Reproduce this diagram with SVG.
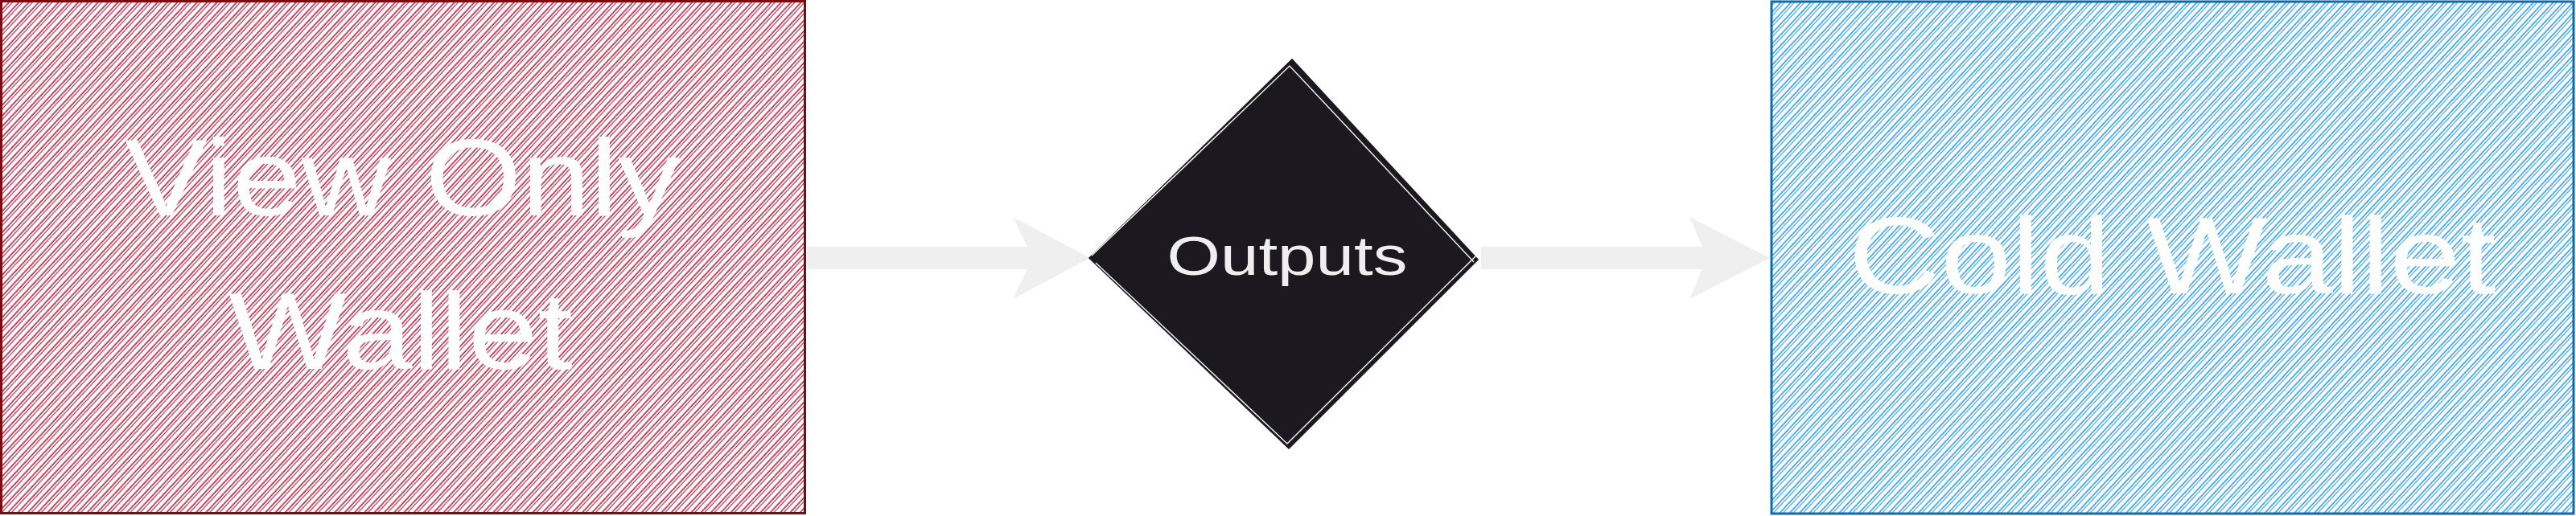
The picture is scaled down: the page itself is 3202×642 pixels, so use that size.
<svg xmlns="http://www.w3.org/2000/svg" width="3202" height="642" viewBox="0 0 3202 642">
<defs>
<pattern id="hatchRed" patternUnits="userSpaceOnUse" width="9" height="9" patternTransform="rotate(43)">
<line x1="1.2" y1="0" x2="1.2" y2="9" stroke="#a9163b" stroke-width="1.5"/>
<line x1="4.4" y1="0" x2="4.4" y2="9" stroke="#bf3558" stroke-width="1.3"/>
</pattern>
<pattern id="hatchBlue" patternUnits="userSpaceOnUse" width="9" height="9" patternTransform="rotate(43)">
<line x1="1.2" y1="0" x2="1.2" y2="9" stroke="#2495e2" stroke-width="1.5"/>
<line x1="4.4" y1="0" x2="4.4" y2="9" stroke="#45aaee" stroke-width="1.3"/>
</pattern>
</defs>
<style>
.label{font-family:"Liberation Sans",Arial,sans-serif;fill:#ffffff;text-anchor:middle;}
.big{font-size:136px;}
.small{font-size:68px;fill:#eeeeee;}
.arrow{fill:#efefef;}
</style>
<rect width="3202" height="642" fill="#ffffff"/>
<g id="connectors">
<polygon class="arrow" points="1003,307 1277,307 1259,270 1355,321 1259,372 1277,335 1003,335"/>
<polygon class="arrow" points="1841,307 2116,307 2100,270 2200,321 2100,372 2116,335 1841,335"/>
</g>
<g id="view-only-wallet">
<rect x="1.5" y="1.5" width="999" height="637" fill="url(#hatchRed)" stroke="#7d0a10" stroke-width="3"/>
<text class="label big" x="500" y="268" textLength="690" lengthAdjust="spacingAndGlyphs">View Only</text>
<text class="label big" x="498" y="459" textLength="428" lengthAdjust="spacingAndGlyphs">Wallet</text>
</g>
<g id="outputs">
<polygon points="1355,321 1606,75 1836,323 1602,557" fill="#1b1820" stroke="#1b1820" stroke-width="3"/>
<polyline points="1357,318 1603,82 1832,326" fill="none" stroke="#ececec" stroke-width="1.5"/>
<polyline points="1362,327 1600,552 1835,318" fill="none" stroke="#ececec" stroke-width="1.5"/>
<text class="label small" x="1600" y="342" textLength="299" lengthAdjust="spacingAndGlyphs">Outputs</text>
</g>
<g id="cold-wallet">
<rect x="2202" y="2" width="997" height="637" fill="url(#hatchBlue)" stroke="#0b6cb0" stroke-width="3"/>
<text class="label big" x="2700" y="365" textLength="805" lengthAdjust="spacingAndGlyphs">Cold Wallet</text>
</g>
</svg>
